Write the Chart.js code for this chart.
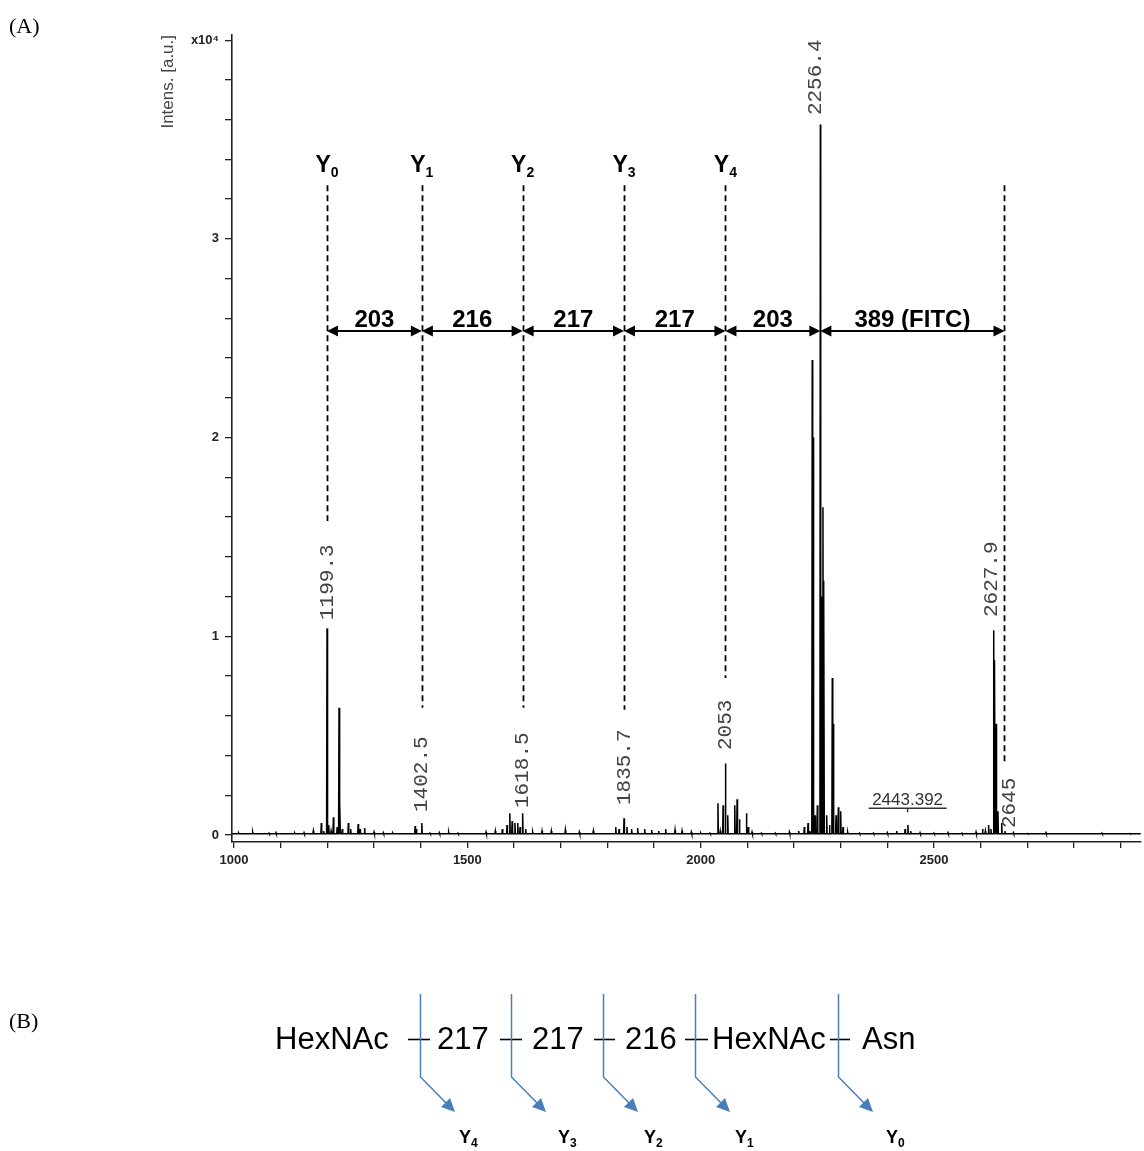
<!DOCTYPE html>
<html lang="en">
<head>
<meta charset="UTF-8">
<title>MALDI spectrum - Y ion ladder</title>
<script src="https://cdn.jsdelivr.net/npm/chart.js@4"></script>
<style>
  html, body { margin: 0; padding: 0; background: #fff; }
  canvas { display: block; }
</style>
</head>
<body>
<canvas id="msChart" width="1144" height="1151"></canvas>
<script>
// peak list (m/z, intensity in units of 1e4)
const peakMz = [
  1010, 1040, 1075, 1090, 1130, 1150, 1170, 1187, 1192,
  1199.3, 1200.5, 1203, 1208, 1213, 1221, 1225, 1227, 1232,
  1245, 1250, 1266, 1270, 1280, 1300, 1320, 1340, 1388, 1391, 1402.5, 1420, 1440, 1460, 1480,
  1540, 1560, 1575, 1585, 1591, 1596, 1602, 1608, 1613, 1618.5, 1625, 1640, 1660, 1680, 1710, 1740, 1770,
  1818, 1825, 1835.7, 1842, 1852, 1865, 1880, 1895, 1910, 1925, 1945, 1960, 1980, 2000, 2020,
  2037, 2042, 2048, 2053, 2058, 2073, 2078, 2083, 2098, 2102, 2110, 2130, 2160, 2190, 2210, 2222, 2230, 2234,
  2239, 2241, 2245, 2250, 2256.4, 2258, 2262, 2264, 2270, 2276, 2282, 2284, 2290, 2295, 2300, 2305,
  2315, 2340, 2370, 2400, 2420, 2438, 2444, 2450, 2470, 2500, 2530, 2560, 2590, 2604, 2610, 2617, 2622,
  2627.9, 2630, 2633, 2637, 2645, 2652, 2670, 2700, 2740, 2800, 2860, 2920
];
const peakInt = [
  0.01, 0.015, 0.01, 0.012, 0.01, 0.012, 0.02, 0.06, 0.02,
  1.04, 0.34, 0.05, 0.02, 0.09, 0.04, 0.64, 0.17, 0.03,
  0.06, 0.03, 0.055, 0.03, 0.035, 0.015, 0.012, 0.01, 0.045, 0.03, 0.06, 0.01, 0.012, 0.015, 0.01,
  0.015, 0.02, 0.03, 0.05, 0.11, 0.07, 0.06, 0.06, 0.04, 0.11, 0.03, 0.015, 0.02, 0.02, 0.025, 0.015, 0.02,
  0.04, 0.03, 0.085, 0.04, 0.03, 0.035, 0.03, 0.025, 0.02, 0.03, 0.025, 0.02, 0.015, 0.01, 0.01,
  0.16, 0.02, 0.15, 0.36, 0.1, 0.15, 0.18, 0.08, 0.11, 0.04, 0.015, 0.01, 0.01, 0.015, 0.02, 0.04, 0.06, 0.02,
  2.39, 2.0, 0.1, 0.15, 3.575, 1.2, 1.65, 1.28, 0.1, 0.05, 0.79, 0.56, 0.1, 0.14, 0.12, 0.04,
  0.015, 0.01, 0.01, 0.012, 0.02, 0.03, 0.05, 0.02, 0.012, 0.01, 0.012, 0.01, 0.015, 0.03, 0.02, 0.05, 0.03,
  1.03, 0.88, 0.56, 0.12, 0.06, 0.02, 0.012, 0.008, 0.012, 0.006, 0.01, 0.008
];
const baseLevel = 0.006;

// axis ticks
const xTicks = [1000, 1100, 1200, 1300, 1400, 1500, 1600, 1700, 1800, 1900, 2000,
                2100, 2200, 2300, 2400, 2500, 2600, 2700, 2800, 2900];
const yTicks = [0, 0.2, 0.4, 0.6, 0.8, 1, 1.2, 1.4, 1.6, 1.8, 2, 2.2, 2.4, 2.6, 2.8, 3,
                3.2, 3.4, 3.6, 3.8, 4];

// Y ion ladder
const ionMz = [1199.3, 1402.5, 1618.5, 1835.7, 2053];
const ionSub = ['0', '1', '2', '3', '4'];
const guideMz = [1199.3, 1402.5, 1618.5, 1835.7, 2053, 2651];
const guideBottom = [1.58, 0.64, 0.64, 0.63, 0.79, 0.36];
const guideTop = 3.27;
const arrowStops = [1199.3, 1402.5, 1618.5, 1835.7, 2053, 2256.4, 2651];
const gapLabels = ['203', '216', '217', '217', '203', '389 (FITC)'];
const arrowLevel = 2.537;

// rotated peak annotations: text, position, intensity where the text starts
const peakLabels = ['1199.3', '1402.5', '1618.5', '1835.7', '2053', '2256.4', '2627.9', '2645'];
const peakLabelMz = [1199.3, 1402.5, 1618.5, 1835.7, 2053, 2246, 2624, 2662];
const peakLabelInt = [1.082, 0.116, 0.136, 0.151, 0.428, 3.623, 1.097, 0.035];

// glycan chain for panel (B)
const chainParts = ['HexNAc', '217', '217', '216', 'HexNAc', 'Asn'];
const cleavageSub = ['4', '3', '2', '1', '0'];

// build stick spectrum
const spectrum = [{ x: 996, y: baseLevel }];
peakMz.forEach((mz, i) => {
  spectrum.push({ x: mz - 0.9, y: baseLevel });
  spectrum.push({ x: mz, y: peakInt[i] });
  spectrum.push({ x: mz + 0.9, y: baseLevel });
});
spectrum.push({ x: 2943, y: baseLevel });

const SANS = "'Liberation Sans', Arial, sans-serif";

function arrowHead(ctx, x, y, dir) {
  ctx.beginPath();
  ctx.moveTo(x, y);
  ctx.lineTo(x - dir * 11, y - 5.5);
  ctx.lineTo(x - dir * 11, y + 5.5);
  ctx.closePath();
  ctx.fill();
}

const overlay = {
  id: 'overlay',
  afterDatasetsDraw(chart) {
    const ctx = chart.ctx;
    const xs = chart.scales.x, ys = chart.scales.y;
    const px = v => xs.getPixelForValue(v);
    const py = v => ys.getPixelForValue(v);
    ctx.save();

    // dashed guides
    ctx.strokeStyle = '#000';
    ctx.lineWidth = 1.8;
    ctx.setLineDash([6, 4]);
    guideMz.forEach((mz, i) => {
      ctx.beginPath();
      ctx.moveTo(Math.round(px(mz)) + 0.5, py(guideTop));
      ctx.lineTo(Math.round(px(mz)) + 0.5, py(guideBottom[i]));
      ctx.stroke();
    });
    ctx.setLineDash([]);

    // Y ion names
    ctx.fillStyle = '#000';
    ctx.textBaseline = 'alphabetic';
    ctx.textAlign = 'left';
    ionMz.forEach((mz, i) => {
      ctx.font = 'bold 23px ' + SANS;
      const w1 = ctx.measureText('Y').width;
      ctx.font = 'bold 14px ' + SANS;
      const w2 = ctx.measureText(ionSub[i]).width;
      const x0 = px(mz) - (w1 + w2) / 2;
      const yb = py(3.335);
      ctx.font = 'bold 23px ' + SANS;
      ctx.fillText('Y', x0, yb);
      ctx.font = 'bold 14px ' + SANS;
      ctx.fillText(ionSub[i], x0 + w1, yb + 5);
    });

    // double arrows with mass differences
    ctx.lineWidth = 2;
    const ay = py(arrowLevel);
    for (let i = 0; i < gapLabels.length; i++) {
      const a = px(arrowStops[i]), b = px(arrowStops[i + 1]);
      ctx.beginPath();
      ctx.moveTo(a + 4, ay);
      ctx.lineTo(b - 4, ay);
      ctx.stroke();
      arrowHead(ctx, a, ay, -1);
      arrowHead(ctx, b, ay, 1);
      ctx.font = 'bold 24px ' + SANS;
      ctx.textAlign = 'center';
      ctx.fillText(gapLabels[i], (a + b) / 2, ay - 4);
    }

    // rotated peak m/z labels
    ctx.fillStyle = '#444';
    ctx.font = "21px 'Liberation Mono', 'Courier New', monospace";
    ctx.textAlign = 'left';
    ctx.textBaseline = 'middle';
    peakLabels.forEach((t, i) => {
      ctx.save();
      ctx.translate(px(peakLabelMz[i]), py(peakLabelInt[i]));
      ctx.rotate(-Math.PI / 2);
      ctx.fillText(t, 0, 0);
      ctx.restore();
    });

    // underlined label of the small peak
    const lx = px(2443.4);
    ctx.fillStyle = '#333';
    ctx.strokeStyle = '#333';
    ctx.font = '17px ' + SANS;
    ctx.textAlign = 'center';
    ctx.textBaseline = 'alphabetic';
    ctx.fillText('2443.392', lx, py(0.15));
    ctx.lineWidth = 1.5;
    ctx.beginPath();
    ctx.moveTo(lx - 39, py(0.135));
    ctx.lineTo(lx + 39, py(0.135));
    ctx.moveTo(lx, py(0.135));
    ctx.lineTo(lx, py(0.115));
    ctx.stroke();
    ctx.restore();
  },
  afterDraw(chart) {
    const ctx = chart.ctx;
    ctx.save();
    ctx.fillStyle = '#000';
    ctx.font = "22px 'Liberation Serif', 'Times New Roman', serif";
    ctx.textAlign = 'left';
    ctx.textBaseline = 'alphabetic';
    ctx.fillText('(A)', 9, 33);
    ctx.fillText('(B)', 9, 1028);

    // panel B: chain with cleavage arrows
    const textX = [275, 437, 532, 625, 712, 862];
    const dashX = [[408, 430], [500, 522], [594, 615], [685, 708], [830, 850]];
    const cutX = [420, 511, 603, 695, 838];
    const subX = [459, 558, 644, 735, 886];
    ctx.font = '31px ' + SANS;
    chainParts.forEach((t, i) => ctx.fillText(t, textX[i], 1049));
    ctx.strokeStyle = '#000';
    ctx.lineWidth = 1.6;
    dashX.forEach(d => {
      ctx.beginPath();
      ctx.moveTo(d[0], 1039.5);
      ctx.lineTo(d[1], 1039.5);
      ctx.stroke();
    });

    ctx.strokeStyle = '#4a7ebb';
    ctx.fillStyle = '#4a7ebb';
    ctx.lineWidth = 1.5;
    cutX.forEach(x => {
      ctx.beginPath();
      ctx.moveTo(x + 0.5, 994);
      ctx.lineTo(x + 0.5, 1077);
      ctx.lineTo(x + 27, 1104);
      ctx.stroke();
      // arrow head pointing down-right
      ctx.beginPath();
      ctx.moveTo(x + 35, 1112);
      ctx.lineTo(x + 21, 1107);
      ctx.lineTo(x + 30, 1098);
      ctx.closePath();
      ctx.fill();
    });

    ctx.fillStyle = '#000';
    cleavageSub.forEach((s, i) => {
      ctx.font = 'bold 18px ' + SANS;
      ctx.fillText('Y', subX[i], 1143);
      const w = ctx.measureText('Y').width;
      ctx.font = 'bold 12px ' + SANS;
      ctx.fillText(s, subX[i] + w, 1147);
    });
    ctx.restore();
  }
};

const ctx = document.getElementById('msChart').getContext('2d');
const chart = new Chart(ctx, {
  type: 'line',
  data: {
    datasets: [{
      data: spectrum,
      borderColor: '#000',
      borderWidth: 1.5,
      pointRadius: 0,
      fill: false,
      tension: 0
    }]
  },
  options: {
    responsive: false,
    animation: false,
    devicePixelRatio: 1,
    layout: { padding: { top: 35, right: 3, left: 0, bottom: 0 } },
    plugins: { legend: { display: false }, tooltip: { enabled: false } },
    scales: {
      x: {
        type: 'linear',
        min: 995.7,
        max: 2943.5,
        afterBuildTicks: s => { s.ticks = xTicks.map(v => ({ value: v })); },
        afterFit: s => { s.height = 309; },
        ticks: {
          autoSkip: false,
          maxRotation: 0,
          padding: 5,
          color: '#222',
          font: { size: 13, weight: 'bold', family: SANS },
          callback: v => (v % 500 === 0 ? String(v) : '')
        },
        grid: { drawOnChartArea: false, drawTicks: true, tickLength: 6, color: '#222', lineWidth: 1.3 },
        border: { color: '#222', width: 1.6 }
      },
      y: {
        min: -0.035,
        max: 4.026,
        afterBuildTicks: s => { s.ticks = yTicks.map(v => ({ value: v })); },
        afterFit: s => { s.width = 232; },
        ticks: {
          autoSkip: false,
          padding: 6,
          color: '#222',
          font: { size: 13, weight: 'bold', family: SANS },
          callback: v => {
            if (Math.abs(v - 4) < 1e-6) return 'x10\u2074';
            return Math.abs(v - Math.round(v)) < 1e-6 ? String(Math.round(v)) : '';
          }
        },
        grid: { drawOnChartArea: false, drawTicks: true, tickLength: 7, color: '#222', lineWidth: 1.3 },
        border: { color: '#222', width: 1.6 },
        title: {
          display: true,
          text: 'Intens. [a.u.]',
          align: 'end',
          color: '#444',
          font: { size: 17, family: SANS },
          padding: { top: 158, bottom: 0 }
        }
      }
    }
  },
  plugins: [overlay]
});
</script>
</body>
</html>
